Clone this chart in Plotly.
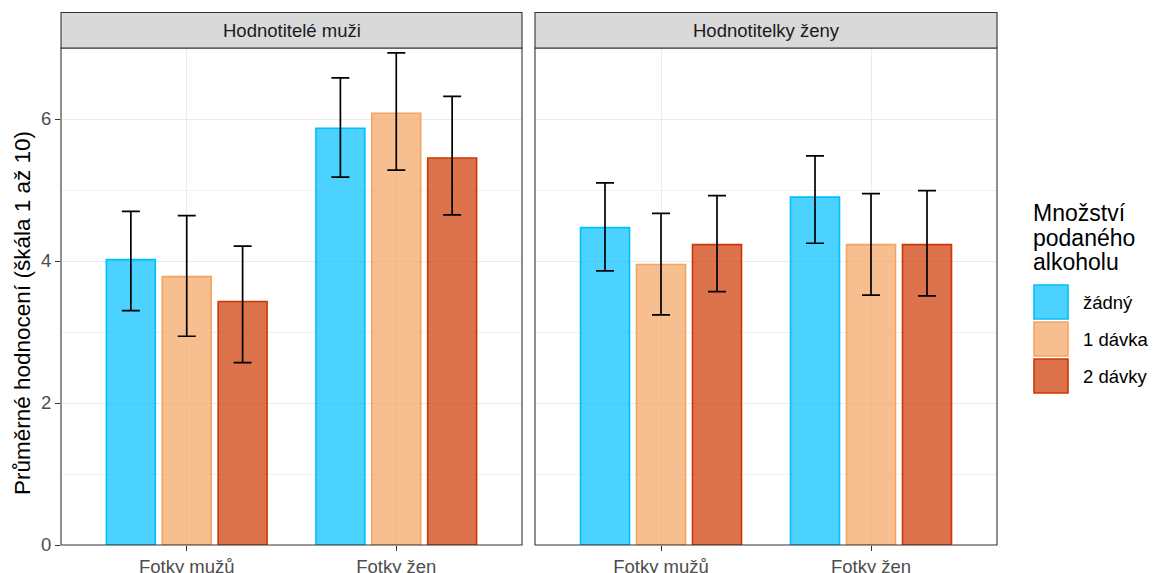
import plotly.graph_objects as go

W, H = 1153, 573

categories = ["Fotky mužů", "Fotky žen"]
levels = ["žádný", "1 dávka", "2 dávky"]
panels = ["Hodnotitelé muži", "Hodnotitelky ženy"]

# mean values [panel][level][category]
means_men = {
    "žádný": [4.02, 5.87],
    "1 dávka": [3.78, 6.08],
    "2 dávky": [3.43, 5.45],
}
lower_men = {
    "žádný": [3.30, 5.18],
    "1 dávka": [2.94, 5.28],
    "2 dávky": [2.57, 4.65],
}
upper_men = {
    "žádný": [4.70, 6.58],
    "1 dávka": [4.64, 6.93],
    "2 dávky": [4.21, 6.32],
}
means_women = {
    "žádný": [4.47, 4.90],
    "1 dávka": [3.95, 4.23],
    "2 dávky": [4.23, 4.23],
}
lower_women = {
    "žádný": [3.86, 4.25],
    "1 dávka": [3.24, 3.52],
    "2 dávky": [3.57, 3.51],
}
upper_women = {
    "žádný": [5.10, 5.48],
    "1 dávka": [4.67, 4.95],
    "2 dávky": [4.92, 4.99],
}

y_ticks = [0, 2, 4, 6]
y_title = "Průměrné hodnocení (škála 1 až 10)"
legend_title = ["Množství", "podaného", "alkoholu"]

line_colors = {"žádný": "#00BFFF", "1 dávka": "#F4A460", "2 dávky": "#CD3700"}
fill_colors = {"žádný": "rgba(0,191,255,0.7)", "1 dávka": "rgba(244,164,96,0.7)",
               "2 dávky": "rgba(205,55,0,0.7)"}

FONT = "Liberation Sans, Arial, sans-serif"


def px(x):
    return x / W


def py(y):
    return 1 - y / H


fig = go.Figure()

data_sets = [(means_men, lower_men, upper_men), (means_women, lower_women, upper_women)]
for i, (m, lo, up) in enumerate(data_sets):
    xa = "x" if i == 0 else "x2"
    ya = "y" if i == 0 else "y2"
    for lev in levels:
        vals = m[lev]
        plus = [u - v for u, v in zip(up[lev], vals)]
        minus = [v - l for v, l in zip(vals, lo[lev])]
        fig.add_trace(go.Bar(
            x=categories, y=vals, name=lev, xaxis=xa, yaxis=ya,
            showlegend=False,
            marker=dict(color=fill_colors[lev], line=dict(color=line_colors[lev], width=1.6)),
            error_y=dict(type="data", symmetric=False, array=plus, arrayminus=minus,
                         color="black", thickness=1.7, width=9),
        ))

x_dom = [[px(61), px(522)], [px(535), px(997)]]
y_dom = [py(545), py(48)]

axis_common = dict(
    showgrid=True, gridcolor="#EBEBEB", gridwidth=1.1,
    ticks="outside", ticklen=5, tickwidth=1.1, tickcolor="#333333",
    tickfont=dict(family=FONT, size=18.5, color="#4D4D4D"),
    showline=False, zeroline=False, automargin=False,
)

fig.update_layout(
    width=W, height=H,
    margin=dict(l=0, r=0, t=0, b=0),
    paper_bgcolor="white", plot_bgcolor="white",
    barmode="group", bargap=0.2, bargroupgap=0.125,
    font=dict(family=FONT),
    xaxis=dict(domain=x_dom[0], anchor="y", range=[-0.6, 1.6], type="category", **axis_common),
    xaxis2=dict(domain=x_dom[1], anchor="y2", range=[-0.6, 1.6], type="category", **axis_common),
    yaxis=dict(domain=y_dom, anchor="x", range=[0, 7.0], tickvals=y_ticks,
               minor=dict(dtick=1, showgrid=True, gridcolor="#F0F0F0", gridwidth=0.8, ticks=""),
               **axis_common),
    yaxis2=dict(domain=y_dom, anchor="x2", range=[0, 7.0], tickvals=y_ticks, matches="y",
                showticklabels=False,
                minor=dict(dtick=1, showgrid=True, gridcolor="#F0F0F0", gridwidth=0.8, ticks=""),
                **{k: v for k, v in axis_common.items() if k != "ticks"}, ticks=""),
)

shapes = []
annotations = []
for i, name in enumerate(panels):
    x0, x1 = x_dom[i]
    # panel border
    shapes.append(dict(type="rect", xref="paper", yref="paper", x0=x0, x1=x1,
                       y0=y_dom[0], y1=y_dom[1], line=dict(color="#333333", width=1.1),
                       fillcolor="rgba(0,0,0,0)", layer="above"))
    # strip
    shapes.append(dict(type="rect", xref="paper", yref="paper", x0=x0, x1=x1,
                       y0=y_dom[1], y1=py(12.5), line=dict(color="#333333", width=1.1),
                       fillcolor="#D9D9D9", layer="above"))
    annotations.append(dict(text=name, xref="paper", yref="paper", x=(x0 + x1) / 2,
                            y=(y_dom[1] + py(12.5)) / 2, showarrow=False,
                            xanchor="center", yanchor="middle",
                            font=dict(family=FONT, size=18.5, color="#1A1A1A")))

annotations.append(dict(text=y_title, xref="paper", yref="paper", x=px(22),
                        y=py(313), showarrow=False, textangle=-90,
                        xanchor="center", yanchor="middle",
                        font=dict(family=FONT, size=22.5, color="black")))

# legend (drawn manually to match ggplot key size)
title_y = [213, 238, 262]
for t, yy in zip(legend_title, title_y):
    annotations.append(dict(text=t, xref="paper", yref="paper", x=px(1031), y=py(yy),
                            showarrow=False, xanchor="left", yanchor="middle",
                            font=dict(family=FONT, size=23, color="black")))
key_tops = [284, 321, 358]
for lev, top in zip(levels, key_tops):
    shapes.append(dict(type="rect", xref="paper", yref="paper", x0=px(1034), x1=px(1068),
                       y0=py(top + 35), y1=py(top + 1),
                       line=dict(color=line_colors[lev], width=1.6),
                       fillcolor=fill_colors[lev]))
    annotations.append(dict(text=lev, xref="paper", yref="paper", x=px(1081),
                            y=py(top + 18), showarrow=False, xanchor="left", yanchor="middle",
                            font=dict(family=FONT, size=18.5, color="black")))

fig.update_layout(shapes=shapes, annotations=annotations)

fig.write_html("out.html",
               config={"displayModeBar": False},
               post_script="document.body.style.margin='0';document.body.style.padding='0';"
                           "document.body.style.overflow='hidden';")
